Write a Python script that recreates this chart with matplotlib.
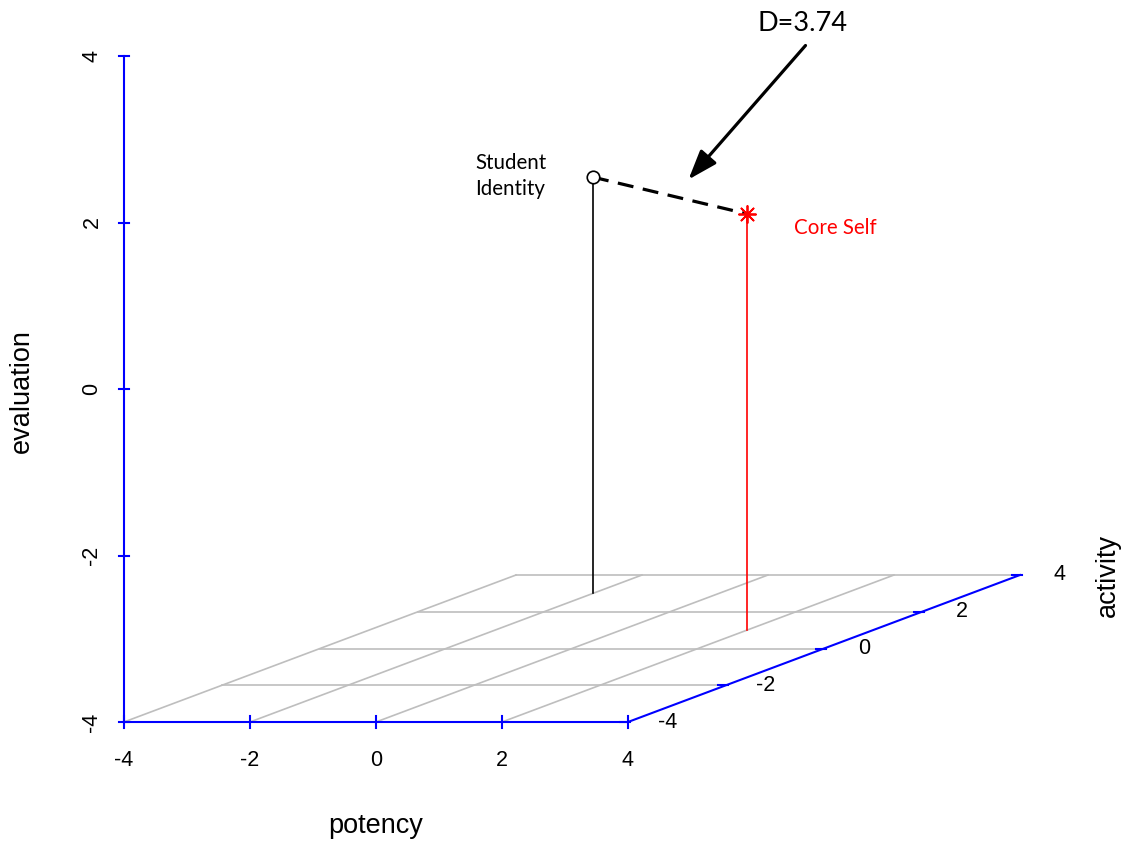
import matplotlib
matplotlib.use("Agg")
import matplotlib.pyplot as plt
from matplotlib.transforms import offset_copy
import numpy as np

# ---- data ----
axis_ticks = [-4, -2, 0, 2, 4]
point_names = ["Student\nIdentity", "Core Self"]
potency = [-2.0, 2.0]
activity = [3.0, 1.0]
evaluation = [1.0, 1.0]
distance_label = "D=3.74"

# ---- projection (scatterplot3d-like oblique) ----
KX = 49 / 63.0      # shift in x per activity unit
KY = 18.375 / 83.25 # shift in y per activity unit
LO, HI = -4, 4


def proj(p, a, e):
    p = np.asarray(p, float); a = np.asarray(a, float); e = np.asarray(e, float)
    return p + (a - LO) * KX, e + (a - LO) * KY


W, H = 1125, 842
fig = plt.figure(figsize=(W / 100, H / 100), dpi=100)
ax = fig.add_axes([124 / W, (H - 722) / H, (1020 - 124) / W, (722 - 56) / H])
ax.set_xlim(LO, HI + (HI - LO) * KX)
ax.set_ylim(LO, HI)
ax.axis("off")

tickfont = dict(family="Liberation Sans", fontsize=15.5, color="black")
blue = "#0000FF"
grey = "#BEBEBE"

# grid on bottom plane
for a in axis_ticks[1:]:
    x, y = proj([LO, HI], [a, a], [LO, LO])
    ax.plot(x, y, color=grey, lw=1.2, clip_on=False, zorder=1)
for p in axis_ticks[:-1]:
    x, y = proj([p, p], [LO, HI], [LO, LO])
    ax.plot(x, y, color=grey, lw=1.2, clip_on=False, zorder=1)

# axes
x, y = proj([LO, HI], [LO, LO], [LO, LO])
ax.plot(x, y, color=blue, lw=1.5, clip_on=False, zorder=3)
x, y = proj([LO, LO], [LO, LO], [LO, HI])
ax.plot(x, y, color=blue, lw=1.5, clip_on=False, zorder=3)
x, y = proj([HI, HI], [LO, HI], [LO, LO])
ax.plot(x, y, color=blue, lw=1.5, clip_on=False, zorder=3)

# ticks and labels: potency
for t in axis_ticks:
    x, y = proj(t, LO, LO)
    ax.plot([x, x], [y - 0.07, y + 0.07], color=blue, lw=1.5, clip_on=False, zorder=3)
    ax.annotate(str(t), (x, y), xytext=(0, -38), textcoords="offset pixels",
                ha="center", va="center", **tickfont)
# evaluation
for t in axis_ticks:
    x, y = proj(LO, LO, t)
    ax.plot([x - 0.08, x + 0.08], [y, y], color=blue, lw=1.5, clip_on=False, zorder=3)
    ax.annotate(str(t), (x, y), xytext=(-32, 0), textcoords="offset pixels",
                ha="center", va="center", rotation=90, **tickfont)
# activity
for t in axis_ticks:
    x, y = proj(HI, t, LO)
    ax.plot([x - 0.13, x + 0.03], [y, y], color=blue, lw=1.5, clip_on=False, zorder=3)
    ax.annotate(str(t), (x, y), xytext=(40, 0), textcoords="offset pixels",
                ha="center", va="center", **tickfont)

labfont = dict(family="Liberation Sans", fontsize=19.5, color="black")
fig.text(376 / W, 1 - 826 / H, "potency", ha="center", va="center", **labfont)
fig.text(22 / W, 1 - 391 / H, "evaluation", ha="center", va="center", rotation=90, **labfont)
fig.text(1108 / W, 1 - 575 / H, "activity", ha="center", va="center", rotation=90, **labfont)

# points with drop lines
colors = ["black", "red"]
for i in range(len(potency)):
    xt, yt = proj(potency[i], activity[i], evaluation[i])
    xb, yb = proj(potency[i], activity[i], LO)
    ax.plot([xt, xb], [yt, yb], color=colors[i], lw=1.2, clip_on=False, zorder=4)

xs, ys = proj(potency, activity, evaluation)
ax.plot(xs, ys, color="black", lw=2.3, ls=(0, (5, 3)), clip_on=False, zorder=5)
ax.plot(xs[0], ys[0], marker="o", ms=9, mfc="white", mec="black", mew=1.2,
        clip_on=False, zorder=6)
ax.scatter([xs[1]], [ys[1]], marker=(8, 2, 0), s=150, c="red", lw=1.3,
           clip_on=False, zorder=6)

annfont = dict(family="Lato", fontsize=14.8)
ax.annotate(point_names[0], (xs[0], ys[0]), xytext=(-118, 1), textcoords="offset pixels",
            ha="left", va="center", color="black", linespacing=1.4, **annfont)
ax.annotate(point_names[1], (xs[1], ys[1]), xytext=(47, -14), textcoords="offset pixels",
            ha="left", va="center", color="red", **annfont)

# distance arrow
mx, my = (xs[0] + xs[1]) / 2, (ys[0] + ys[1]) / 2
ax.annotate("", xy=(mx, my), xytext=(135.5 - 18.5, 150 - 16),
            textcoords="offset pixels",
            xycoords=offset_copy(ax.transData, fig=fig, x=18.5, y=16, units="dots"),
            arrowprops=dict(arrowstyle="-|>,head_length=0.9,head_width=0.32", lw=2.3,
                            color="black", shrinkA=0, shrinkB=0, mutation_scale=20))
ax.annotate(distance_label, (mx, my), xytext=(133, 172), textcoords="offset pixels",
            ha="center", va="center", color="black", family="Lato", fontsize=19.5)

fig.savefig("out.png", dpi=100)
